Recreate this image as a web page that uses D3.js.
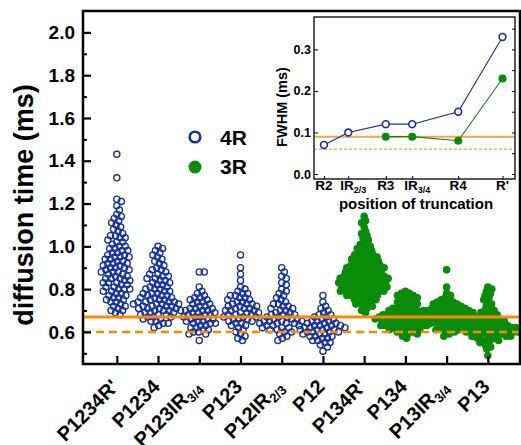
<!DOCTYPE html>
<html>
<head>
<meta charset="utf-8">
<script src="https://cdn.jsdelivr.net/npm/d3@7"></script>
<style>
  body { margin: 0; background: #fff; }
  svg { font-family: "Liberation Sans", Arial, sans-serif; font-weight: bold; }
</style>
</head>
<body>
<div id="chart"></div>
<script>
// categories on the main axis (label + subscript part)
var catMain = ["P1234R'", "P1234", "P123IR", "P123", "P12IR", "P12", "P134R'", "P134", "P13IR", "P13"];
var catSub = ["", "", "3/4", "", "2/3", "", "", "", "3/4", ""];
var catGroup = ["4R", "4R", "4R", "4R", "4R", "4R", "3R", "3R", "3R", "3R"];

// diffusion times (ms)
var tP1234Rp = [1.43, 1.32, 1.22, 1.21, 1.19, 1.17, 1.15, 1.14, 1.13, 1.12, 1.11, 1.10, 1.09, 1.08, 1.07, 1.06, 1.05, 1.05, 1.04, 1.04, 1.03, 1.02, 1.02, 1.01, 1.00, 1.00, 0.99, 0.99, 0.98, 0.98, 0.97, 0.97, 0.96, 0.96, 0.95, 0.95, 0.95, 0.94, 0.94, 0.93, 0.93, 0.92, 0.92, 0.92, 0.91, 0.91, 0.90, 0.90, 0.90, 0.89, 0.89, 0.88, 0.88, 0.88, 0.87, 0.87, 0.86, 0.86, 0.85, 0.85, 0.85, 0.84, 0.84, 0.83, 0.83, 0.83, 0.82, 0.82, 0.81, 0.81, 0.80, 0.80, 0.80, 0.79, 0.79, 0.78, 0.78, 0.77, 0.77, 0.76, 0.76, 0.75, 0.75, 0.74, 0.74, 0.73, 0.72, 0.72, 0.71, 0.70, 0.70, 0.69, 0.68];
var tP1234 = [1.00, 0.99, 0.98, 0.97, 0.96, 0.95, 0.94, 0.93, 0.92, 0.91, 0.90, 0.89, 0.89, 0.88, 0.87, 0.87, 0.86, 0.86, 0.85, 0.85, 0.84, 0.84, 0.83, 0.83, 0.82, 0.82, 0.81, 0.81, 0.80, 0.80, 0.80, 0.79, 0.79, 0.78, 0.78, 0.78, 0.77, 0.77, 0.77, 0.76, 0.76, 0.76, 0.75, 0.75, 0.75, 0.74, 0.74, 0.74, 0.74, 0.73, 0.73, 0.73, 0.73, 0.72, 0.72, 0.72, 0.72, 0.71, 0.71, 0.71, 0.71, 0.70, 0.70, 0.70, 0.70, 0.69, 0.69, 0.69, 0.68, 0.68, 0.68, 0.67, 0.67, 0.67, 0.66, 0.66, 0.65, 0.65, 0.64, 0.64, 0.63, 0.62];
var tP123IR34 = [0.88, 0.88, 0.81, 0.79, 0.78, 0.77, 0.76, 0.76, 0.75, 0.75, 0.74, 0.74, 0.73, 0.73, 0.72, 0.72, 0.71, 0.71, 0.71, 0.70, 0.70, 0.70, 0.69, 0.69, 0.69, 0.68, 0.68, 0.68, 0.67, 0.67, 0.67, 0.66, 0.66, 0.66, 0.65, 0.65, 0.65, 0.64, 0.64, 0.64, 0.63, 0.63, 0.62, 0.62, 0.61, 0.61, 0.60, 0.60, 0.59, 0.59, 0.56];
var tP123 = [0.96, 0.90, 0.87, 0.84, 0.81, 0.80, 0.79, 0.78, 0.78, 0.77, 0.77, 0.76, 0.76, 0.75, 0.75, 0.74, 0.74, 0.73, 0.73, 0.73, 0.72, 0.72, 0.72, 0.71, 0.71, 0.71, 0.70, 0.70, 0.70, 0.69, 0.69, 0.69, 0.68, 0.68, 0.68, 0.67, 0.67, 0.67, 0.66, 0.66, 0.66, 0.65, 0.65, 0.64, 0.64, 0.63, 0.63, 0.62, 0.61, 0.60, 0.59, 0.58, 0.57, 0.56];
var tP12IR23 = [0.90, 0.88, 0.86, 0.85, 0.83, 0.82, 0.80, 0.79, 0.78, 0.77, 0.76, 0.75, 0.74, 0.73, 0.73, 0.72, 0.72, 0.71, 0.71, 0.70, 0.70, 0.69, 0.69, 0.68, 0.68, 0.68, 0.67, 0.67, 0.67, 0.66, 0.66, 0.66, 0.65, 0.65, 0.65, 0.65, 0.64, 0.64, 0.64, 0.64, 0.63, 0.63, 0.63, 0.62, 0.62, 0.62, 0.61, 0.61, 0.60, 0.60, 0.59, 0.58, 0.57, 0.56];
var tP12 = [0.77, 0.74, 0.72, 0.71, 0.70, 0.69, 0.68, 0.68, 0.67, 0.67, 0.66, 0.66, 0.65, 0.65, 0.65, 0.64, 0.64, 0.64, 0.63, 0.63, 0.63, 0.63, 0.62, 0.62, 0.62, 0.62, 0.61, 0.61, 0.61, 0.61, 0.60, 0.60, 0.60, 0.60, 0.59, 0.59, 0.59, 0.58, 0.58, 0.58, 0.57, 0.57, 0.56, 0.56, 0.55, 0.55, 0.54, 0.53, 0.51];
var tP134Rp = [1.14, 1.12, 1.11, 1.09, 1.07, 1.06, 1.05, 1.04, 1.03, 1.02, 1.01, 1.00, 1.00, 0.99, 0.99, 0.98, 0.98, 0.97, 0.97, 0.96, 0.96, 0.96, 0.95, 0.95, 0.95, 0.94, 0.94, 0.94, 0.93, 0.93, 0.93, 0.92, 0.92, 0.92, 0.91, 0.91, 0.91, 0.91, 0.90, 0.90, 0.90, 0.90, 0.89, 0.89, 0.89, 0.89, 0.88, 0.88, 0.88, 0.88, 0.87, 0.87, 0.87, 0.87, 0.86, 0.86, 0.86, 0.86, 0.86, 0.85, 0.85, 0.85, 0.85, 0.85, 0.84, 0.84, 0.84, 0.84, 0.84, 0.83, 0.83, 0.83, 0.83, 0.83, 0.82, 0.82, 0.82, 0.82, 0.82, 0.81, 0.81, 0.81, 0.81, 0.81, 0.80, 0.80, 0.80, 0.80, 0.80, 0.79, 0.79, 0.79, 0.79, 0.79, 0.78, 0.78, 0.78, 0.78, 0.77, 0.77, 0.77, 0.77, 0.76, 0.76, 0.76, 0.75, 0.75, 0.75, 0.74, 0.74, 0.73, 0.73, 0.72, 0.72, 0.71, 0.70, 0.69];
var tP134 = [0.79, 0.78, 0.78, 0.77, 0.77, 0.76, 0.76, 0.75, 0.75, 0.74, 0.74, 0.73, 0.73, 0.72, 0.72, 0.71, 0.71, 0.71, 0.70, 0.70, 0.70, 0.69, 0.69, 0.69, 0.69, 0.68, 0.68, 0.68, 0.68, 0.68, 0.67, 0.67, 0.67, 0.67, 0.67, 0.67, 0.66, 0.66, 0.66, 0.66, 0.66, 0.66, 0.65, 0.65, 0.65, 0.65, 0.65, 0.65, 0.64, 0.64, 0.64, 0.64, 0.64, 0.63, 0.63, 0.63, 0.63, 0.63, 0.62, 0.62, 0.62, 0.62, 0.61, 0.61, 0.61, 0.60, 0.60, 0.60, 0.59, 0.59, 0.58, 0.57];
var tP13IR34 = [0.89, 0.81, 0.78, 0.77, 0.76, 0.75, 0.75, 0.74, 0.74, 0.73, 0.73, 0.73, 0.72, 0.72, 0.72, 0.71, 0.71, 0.71, 0.71, 0.70, 0.70, 0.70, 0.70, 0.70, 0.69, 0.69, 0.69, 0.69, 0.69, 0.68, 0.68, 0.68, 0.68, 0.68, 0.68, 0.67, 0.67, 0.67, 0.67, 0.67, 0.67, 0.66, 0.66, 0.66, 0.66, 0.66, 0.66, 0.65, 0.65, 0.65, 0.65, 0.65, 0.65, 0.64, 0.64, 0.64, 0.64, 0.64, 0.63, 0.63, 0.63, 0.63, 0.62, 0.62, 0.62, 0.61, 0.61, 0.60, 0.60, 0.59, 0.58];
var tP13 = [0.81, 0.80, 0.79, 0.78, 0.77, 0.76, 0.75, 0.74, 0.73, 0.72, 0.71, 0.70, 0.70, 0.69, 0.69, 0.68, 0.68, 0.67, 0.67, 0.66, 0.66, 0.66, 0.65, 0.65, 0.65, 0.65, 0.64, 0.64, 0.64, 0.64, 0.63, 0.63, 0.63, 0.63, 0.63, 0.62, 0.62, 0.62, 0.62, 0.62, 0.62, 0.61, 0.61, 0.61, 0.61, 0.61, 0.61, 0.60, 0.60, 0.60, 0.60, 0.60, 0.60, 0.59, 0.59, 0.59, 0.59, 0.59, 0.58, 0.58, 0.58, 0.58, 0.57, 0.57, 0.57, 0.56, 0.56, 0.55, 0.55, 0.54, 0.53, 0.52, 0.49];

var swarms = [tP1234Rp, tP1234, tP123IR34, tP123, tP12IR23, tP12, tP134Rp, tP134, tP13IR34, tP13];

// reference levels (orange lines)
var refSolid = 0.67, refDashed = 0.60;

// inset: FWHM vs truncation position
var siteMain = ["R2", "IR", "R3", "IR", "R4", "R'"];
var siteSub = ["", "2/3", "", "3/4", "", ""];
var sitePos = [1, 1.68, 2.73, 3.47, 4.76, 6];
var fwhm4R = [0.07, 0.10, 0.12, 0.12, 0.15, 0.33];
var fwhm3R = [null, null, 0.09, 0.09, 0.08, 0.23];
var insetSolid = 0.09, insetDashed = 0.06;

(function() {
  var W = 521, H = 445;
  var blue = "#14309c", green = "#0a8c0a", orange = "#ff8a00";

  var svg = d3.select("#chart")
    .append("svg")
    .attr("width", W)
    .attr("height", H);

  var left = 83, right = 520, top = 11, bottom = 364;

  var x = d3.scaleLinear().domain([0.18, 10.78]).range([left, right]);
  var y = d3.scaleLinear().domain([0.45, 2.1]).range([bottom, top]);

  // beeswarm: place points by value, nearest free slot to the centre
  function swarm(vals, r) {
    var pts = vals.map(function(v) { return { v: v, y: y(v) }; })
      .sort(function(a, b) { return a.y - b.y; });
    var placed = [];
    pts.forEach(function(p) {
      var cands = [0];
      placed.forEach(function(q) {
        var dy = p.y - q.y;
        if (Math.abs(dy) < 2 * r) {
          var dx = Math.sqrt(4 * r * r - dy * dy);
          cands.push(q.dx + dx, q.dx - dx);
        }
      });
      cands.sort(function(a, b) { return Math.abs(a) - Math.abs(b); });
      for (var i = 0; i < cands.length; i++) {
        var c = cands[i];
        var ok = placed.every(function(q) {
          var ddx = c - q.dx, ddy = p.y - q.y;
          return ddx * ddx + ddy * ddy >= 4 * r * r - 0.01;
        });
        if (ok) { p.dx = c; break; }
      }
      placed.push(p);
    });
    return placed;
  }

  // points
  swarms.forEach(function(vals, i) {
    var is4R = catGroup[i] == "4R";
    var pts = swarm(vals, is4R ? 2.5 : 2.25);
    svg.selectAll(".pt-" + i)
      .data(pts)
      .enter().append("circle")
      .attr("class", "pt-" + i)
      .attr("cx", function(d) { return x(i + 1) + d.dx; })
      .attr("cy", function(d) { return d.y; })
      .attr("r", is4R ? 3.1 : 3.8)
      .attr("fill", is4R ? "none" : green)
      .attr("stroke", is4R ? blue : "none")
      .attr("stroke-width", 1.3);
  });

  // orange reference lines
  svg.append("line")
    .attr("x1", left).attr("x2", right)
    .attr("y1", y(refSolid)).attr("y2", y(refSolid))
    .attr("stroke", orange).attr("stroke-width", 3);
  svg.append("line")
    .attr("x1", left).attr("x2", right)
    .attr("y1", y(refDashed)).attr("y2", y(refDashed))
    .attr("stroke", orange).attr("stroke-width", 2.5)
    .attr("stroke-dasharray", "8,5");

  // y axis (ticks point inward)
  svg.append("g")
    .attr("transform", "translate(" + left + ",0)")
    .call(d3.axisLeft(y).tickValues([0.6, 0.8, 1.0, 1.2, 1.4, 1.6, 1.8, 2.0])
      .tickFormat(d3.format(".1f")).tickSize(-8).tickSizeOuter(0).tickPadding(8))
    .attr("font-family", null).attr("font-size", null)
    .call(function(g) { g.select(".domain").remove(); })
    .call(function(g) {
      g.selectAll("line").attr("stroke-width", 2.2);
      g.selectAll("text").style("font-size", "19px").attr("fill", "#000");
    });
  svg.append("g")
    .attr("transform", "translate(" + left + ",0)")
    .call(d3.axisLeft(y).tickValues([0.5, 0.7, 0.9, 1.1, 1.3, 1.5, 1.7, 1.9]).tickFormat("").tickSize(-4).tickSizeOuter(0))
    .call(function(g) { g.select(".domain").remove(); g.selectAll("line").attr("stroke-width", 2); });

  // x axis ticks
  svg.append("g")
    .attr("transform", "translate(0," + bottom + ")")
    .call(d3.axisBottom(x).tickValues(d3.range(1, 11)).tickFormat("").tickSize(-8).tickSizeOuter(0))
    .call(function(g) { g.select(".domain").remove(); g.selectAll("line").attr("stroke-width", 2.2); });

  // frame
  svg.append("rect")
    .attr("x", left).attr("y", top)
    .attr("width", right - left).attr("height", bottom - top)
    .attr("fill", "none").attr("stroke", "#000").attr("stroke-width", 2.5);

  // category labels, rotated -45, subscript as its own text
  catMain.forEach(function(name, i) {
    var g = svg.append("g")
      .attr("class", "cat-label")
      .attr("transform", "translate(" + (x(i + 1) + 3) + ",388) rotate(-45)");
    var subW = 0;
    if (catSub[i]) {
      var s = g.append("text").attr("text-anchor", "end").attr("y", 4)
        .style("font-size", "13px").text(catSub[i]);
      subW = s.node().getComputedTextLength();
    }
    g.append("text").attr("text-anchor", "end").attr("x", -subW)
      .style("font-size", "20px").text(name);
  });

  // y title
  svg.append("text")
    .attr("transform", "translate(33,205) rotate(-90)")
    .attr("text-anchor", "middle")
    .style("font-size", "27px")
    .text("diffusion time (ms)");

  // legend
  svg.append("circle").attr("cx", 195).attr("cy", 137).attr("r", 5.3)
    .attr("fill", "none").attr("stroke", blue).attr("stroke-width", 2.6);
  svg.append("text").attr("x", 220).attr("y", 144.5).style("font-size", "21px").text("4R");
  svg.append("circle").attr("cx", 195).attr("cy", 167).attr("r", 6.5).attr("fill", green);
  svg.append("text").attr("x", 220).attr("y", 174).style("font-size", "21px").text("3R");

  // ---------- inset ----------
  var il = 314, ir = 515, it = 17, ib = 179;
  var ix = d3.scaleLinear().domain([0.72, 6.35]).range([il, ir]);
  var iy = d3.scaleLinear().domain([-0.012, 0.378]).range([ib, it]);

  var inset = svg.append("g");
  inset.append("rect")
    .attr("x", il).attr("y", it).attr("width", ir - il).attr("height", ib - it)
    .attr("fill", "#fff");

  inset.append("line")
    .attr("x1", il).attr("x2", ir)
    .attr("y1", iy(insetSolid)).attr("y2", iy(insetSolid))
    .attr("stroke", "#f5a54a").attr("stroke-width", 2);
  inset.append("line")
    .attr("x1", il).attr("x2", ir)
    .attr("y1", iy(insetDashed)).attr("y2", iy(insetDashed))
    .attr("stroke", "#f08a1a").attr("stroke-width", 1)
    .attr("stroke-dasharray", "3,2");

  var line = d3.line()
    .defined(function(d) { return d[1] != null; })
    .x(function(d) { return ix(d[0]); })
    .y(function(d) { return iy(d[1]); });

  var s4 = sitePos.map(function(p, i) { return [p, fwhm4R[i]]; });
  var s3 = sitePos.map(function(p, i) { return [p, fwhm3R[i]]; });

  inset.append("path").datum(s4).attr("d", line)
    .attr("fill", "none").attr("stroke", blue).attr("stroke-width", 1.1);
  inset.append("path").datum(s3).attr("d", line)
    .attr("fill", "none").attr("stroke", green).attr("stroke-width", 1.1);

  inset.selectAll(".m3")
    .data(s3.filter(function(d) { return d[1] != null; }))
    .enter().append("circle")
    .attr("class", "m3")
    .attr("cx", function(d) { return ix(d[0]); })
    .attr("cy", function(d) { return iy(d[1]); })
    .attr("r", 4)
    .attr("fill", green);
  inset.selectAll(".m4")
    .data(s4)
    .enter().append("circle")
    .attr("class", "m4")
    .attr("cx", function(d) { return ix(d[0]); })
    .attr("cy", function(d) { return iy(d[1]); })
    .attr("r", 3.4)
    .attr("fill", "#fff")
    .attr("stroke", blue)
    .attr("stroke-width", 1.6);

  // inset axes
  inset.append("g")
    .attr("transform", "translate(" + il + ",0)")
    .call(d3.axisLeft(iy).tickValues([0, 0.1, 0.2, 0.3]).tickFormat(d3.format(".1f"))
      .tickSize(-4).tickSizeOuter(0).tickPadding(3))
    .attr("font-family", null).attr("font-size", null)
    .call(function(g) {
      g.select(".domain").remove();
      g.selectAll("text").style("font-size", "12.5px").attr("fill", "#000");
    });
  inset.append("g")
    .attr("transform", "translate(" + ir + ",0)")
    .call(d3.axisRight(iy).tickValues([0, 0.05, 0.1, 0.15, 0.2, 0.25, 0.3, 0.35]).tickFormat("").tickSize(-3).tickSizeOuter(0))
    .call(function(g) { g.select(".domain").remove(); });
  inset.append("g")
    .attr("transform", "translate(0," + ib + ")")
    .call(d3.axisBottom(ix).tickValues(sitePos).tickFormat("").tickSize(-3).tickSizeOuter(0))
    .call(function(g) { g.select(".domain").remove(); });

  inset.append("rect")
    .attr("x", il).attr("y", it).attr("width", ir - il).attr("height", ib - it)
    .attr("fill", "none").attr("stroke", "#000").attr("stroke-width", 1.3);

  var sl = inset.selectAll(".site-label")
    .data(siteMain)
    .enter().append("text")
    .attr("class", "site-label")
    .attr("x", function(d, i) { return ix(sitePos[i]) + (siteSub[i] ? 5 : 0); })
    .attr("y", 190)
    .attr("text-anchor", "middle")
    .style("font-size", "13.5px");
  sl.append("tspan").text(function(d) { return d; });
  sl.append("tspan")
    .attr("dy", 3)
    .style("font-size", "9px")
    .text(function(d, i) { return siteSub[i]; });

  inset.append("text")
    .attr("x", 416).attr("y", 209)
    .attr("text-anchor", "middle")
    .style("font-size", "15px")
    .text("position of truncation");

  inset.append("text")
    .attr("transform", "translate(287,107) rotate(-90)")
    .attr("text-anchor", "middle")
    .style("font-size", "14.5px")
    .text("FWHM (ms)");
})();
</script>
</body>
</html>
